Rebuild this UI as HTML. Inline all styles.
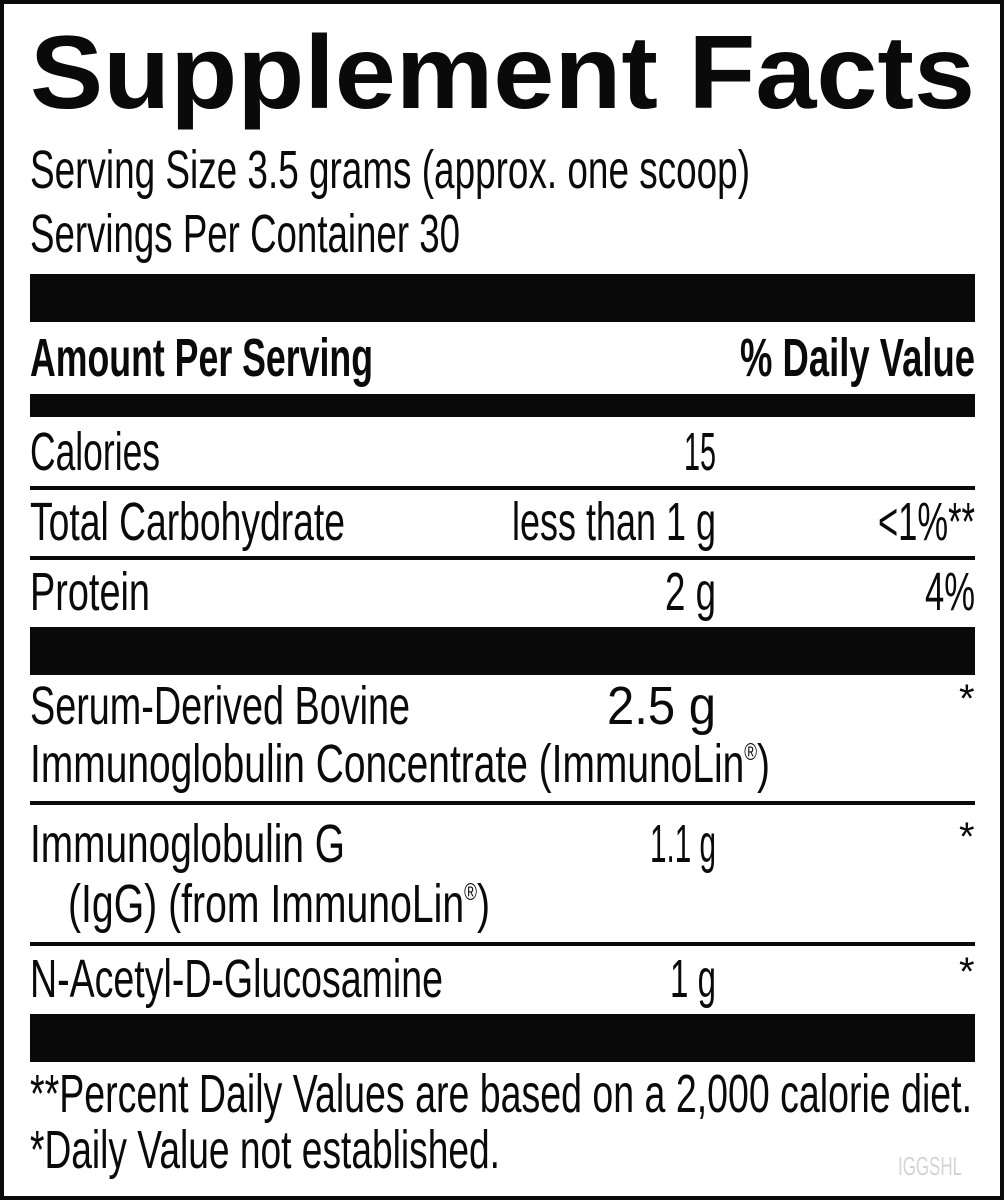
<!DOCTYPE html>
<html><head><meta charset="utf-8"><style>
html,body{margin:0;padding:0;background:#fff;}
svg{display:block;}
text{font-family:"Liberation Sans",sans-serif;fill:#0a0a0a;}
</style></head><body>
<svg width="1004" height="1200" viewBox="0 0 1004 1200" xmlns="http://www.w3.org/2000/svg">
<rect x="2" y="2" width="1000" height="1196" fill="#fff" stroke="#0a0a0a" stroke-width="4"/>
<text x="30" y="108" font-size="104" font-weight="bold" textLength="945" lengthAdjust="spacingAndGlyphs">Supplement Facts</text>
<text x="30" y="188" font-size="54" textLength="720" lengthAdjust="spacingAndGlyphs">Serving Size 3.5 grams (approx. one scoop)</text>
<text x="30" y="252" font-size="54" textLength="430" lengthAdjust="spacingAndGlyphs">Servings Per Container 30</text>
<rect x="30" y="274" width="945" height="48" fill="#0a0a0a"/>
<text x="30" y="376" font-size="54" font-weight="bold" textLength="343" lengthAdjust="spacingAndGlyphs">Amount Per Serving</text>
<text x="740" y="376" font-size="54" font-weight="bold" textLength="235" lengthAdjust="spacingAndGlyphs">% Daily Value</text>
<rect x="30" y="394" width="945" height="23" fill="#0a0a0a"/>
<text x="30" y="470" font-size="54" textLength="130" lengthAdjust="spacingAndGlyphs">Calories</text>
<text x="684" y="470" font-size="54" textLength="32" lengthAdjust="spacingAndGlyphs">15</text>
<rect x="30" y="486" width="945" height="4" fill="#0a0a0a"/>
<text x="30" y="540" font-size="54" textLength="315" lengthAdjust="spacingAndGlyphs">Total Carbohydrate</text>
<text x="512" y="540" font-size="54" textLength="204" lengthAdjust="spacingAndGlyphs">less than 1 g</text>
<text x="878" y="540" font-size="54" textLength="97" lengthAdjust="spacingAndGlyphs">&lt;1%**</text>
<rect x="30" y="556" width="945" height="4" fill="#0a0a0a"/>
<text x="30" y="610" font-size="54" textLength="120" lengthAdjust="spacingAndGlyphs">Protein</text>
<text x="665" y="610" font-size="54" textLength="51" lengthAdjust="spacingAndGlyphs">2 g</text>
<text x="925" y="610" font-size="54" textLength="50" lengthAdjust="spacingAndGlyphs">4%</text>
<rect x="30" y="627" width="945" height="48" fill="#0a0a0a"/>
<text x="30" y="724" font-size="54" textLength="380" lengthAdjust="spacingAndGlyphs">Serum-Derived Bovine</text>
<text x="607" y="724" font-size="54" textLength="109" lengthAdjust="spacingAndGlyphs">2.5 g</text>
<text x="959" y="712" font-size="40">*</text>
<text x="30" y="782" font-size="54" textLength="740" lengthAdjust="spacingAndGlyphs">Immunoglobulin Concentrate (ImmunoLin<tspan font-size="24" dy="-22">®</tspan><tspan dy="22">)</tspan></text>
<rect x="30" y="801" width="945" height="4" fill="#0a0a0a"/>
<text x="30" y="862" font-size="54" textLength="315" lengthAdjust="spacingAndGlyphs">Immunoglobulin G</text>
<text x="650" y="862" font-size="54" textLength="66" lengthAdjust="spacingAndGlyphs">1.1 g</text>
<text x="959" y="850" font-size="40">*</text>
<text x="68" y="922" font-size="54" textLength="422" lengthAdjust="spacingAndGlyphs">(IgG) (from ImmunoLin<tspan font-size="24" dy="-22">®</tspan><tspan dy="22">)</tspan></text>
<rect x="30" y="942" width="945" height="4" fill="#0a0a0a"/>
<text x="30" y="997" font-size="54" textLength="413" lengthAdjust="spacingAndGlyphs">N-Acetyl-D-Glucosamine</text>
<text x="670" y="997" font-size="54" textLength="46" lengthAdjust="spacingAndGlyphs">1 g</text>
<text x="959" y="985" font-size="40">*</text>
<rect x="30" y="1014" width="945" height="48" fill="#0a0a0a"/>
<text x="30" y="1112" font-size="54" textLength="942" lengthAdjust="spacingAndGlyphs">**Percent Daily Values are based on a 2,000 calorie diet.</text>
<text x="30" y="1168" font-size="54" textLength="470" lengthAdjust="spacingAndGlyphs">*Daily Value not established.</text>
<text x="898" y="1175" font-size="26" textLength="64" lengthAdjust="spacingAndGlyphs" style="fill:#d4d4d4">IGGSHL</text>
</svg>
</body></html>
